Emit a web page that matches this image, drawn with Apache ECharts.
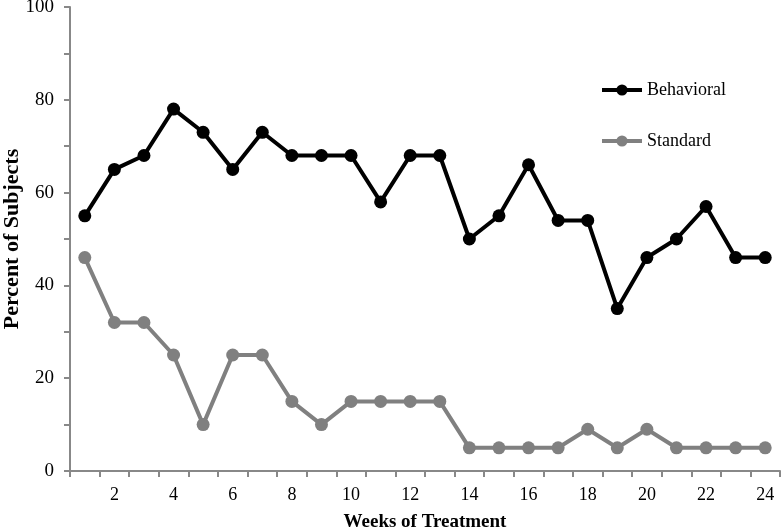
<!DOCTYPE html>
<html><head><meta charset="utf-8">
<script src="https://cdn.jsdelivr.net/npm/echarts@6/dist/echarts.min.js"></script>
<style>html,body{margin:0;padding:0;background:#fff}#c{width:784px;height:530px}</style>
</head><body><div id="c"></div>
<script>
const weeks = ['1','2','3','4','5','6','7','8','9','10','11','12','13','14','15','16','17','18','19','20','21','22','23','24'];
const behavioral = [55,65,68,78,73,65,73,68,68,68,58,68,68,50,55,66,54,54,35,46,50,57,46,46];
const standard = [46,32,32,25,10,25,25,15,10,15,15,15,15,5,5,5,5,9,5,9,5,5,5,5];
const font = '"Liberation Serif", "Times New Roman", serif';
const chart = echarts.init(document.getElementById('c'));
chart.setOption({
  animation: false,
  textStyle: {fontFamily: font},
  grid: {left: 70, right: 4, top: 7, bottom: 59, outerBoundsMode: 'none', containLabel: false},
  legend: {
    orient: 'vertical', left: 600, top: 81, itemGap: 33, itemWidth: 40, itemHeight: 14, padding: 0,
    textStyle: {fontFamily: font, fontSize: 18, color: '#000'},
    lineStyle: {width: 4},
    data: ['Behavioral','Standard']
  },
  xAxis: {
    type: 'category', data: weeks, boundaryGap: true,
    name: 'Weeks of Treatment', nameLocation: 'middle', nameGap: 42, nameMoveOverlap: false,
    nameTextStyle: {fontFamily: font, fontSize: 19, fontWeight: 'bold', color: '#000'},
    axisLine: {lineStyle: {color: '#888', width: 2}},
    axisTick: {show: true, interval: 0, length: 6, lineStyle: {color: '#888', width: 2}},
    axisLabel: {interval: 0, fontSize: 18, color: '#000', margin: 15,
      formatter: v => (parseInt(v) % 2 === 0 ? v : '')}
  },
  yAxis: {
    type: 'value', min: 0, max: 100, interval: 10,
    name: 'Percent of Subjects', nameLocation: 'middle', nameGap: 47, nameMoveOverlap: false,
    nameTextStyle: {fontFamily: font, fontSize: 22, fontWeight: 'bold', color: '#000'},
    axisLine: {show: true, lineStyle: {color: '#888', width: 2}},
    axisTick: {show: true, length: 6, lineStyle: {color: '#888', width: 2}},
    splitLine: {show: false},
    axisLabel: {fontSize: 19, color: '#000', margin: 16,
      formatter: v => (v % 20 === 0 ? String(v) : '')}
  },
  series: [
    {name: 'Behavioral', type: 'line', data: behavioral, symbol: 'circle', symbolSize: 13,
     lineStyle: {color: '#000', width: 4}, itemStyle: {color: '#000'}},
    {name: 'Standard', type: 'line', data: standard, symbol: 'circle', symbolSize: 13,
     lineStyle: {color: '#808080', width: 4}, itemStyle: {color: '#808080'}}
  ]
});
</script></body></html>
